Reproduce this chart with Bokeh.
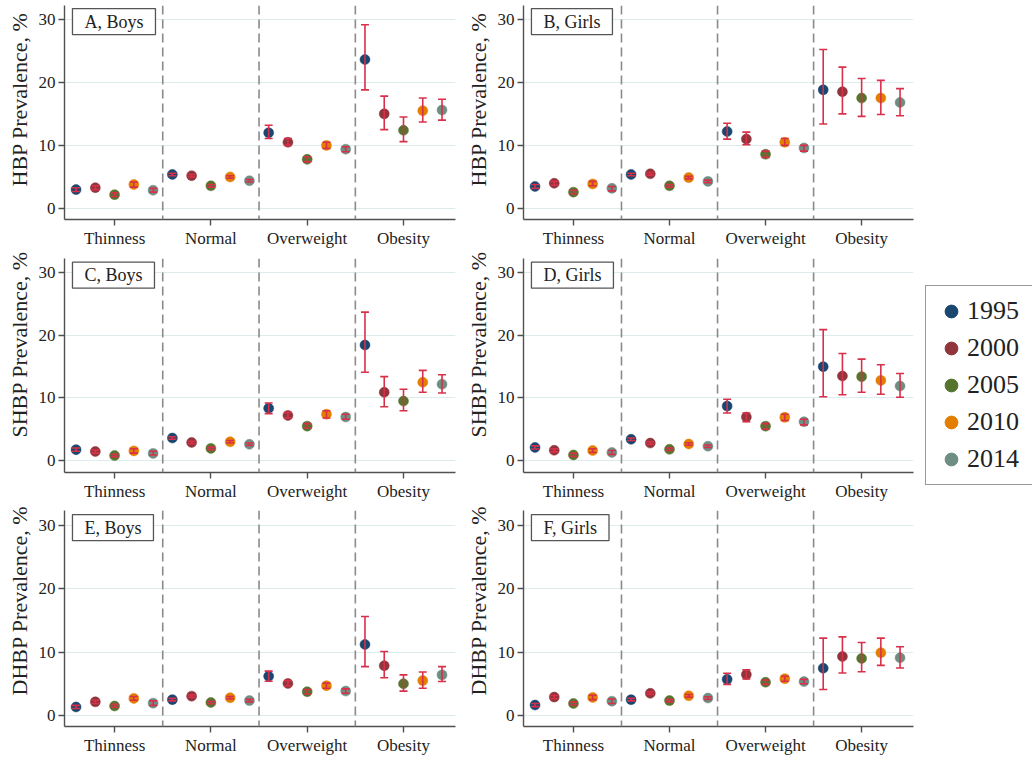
import math
from bokeh.plotting import figure
from bokeh.models import (ColumnDataSource, Whisker, TeeHead, Span, Label, FixedTicker,
                          Range1d, Legend, LegendItem, Spacer, Title)
from bokeh.layouts import row, column
from bokeh.embed import file_html
from bokeh.resources import INLINE

categories = ["Thinness", "Normal", "Overweight", "Obesity"]
years = ["1995", "2000", "2005", "2010", "2014"]
year_colors = ["#1a476f", "#90353b", "#55752f", "#e37e00", "#6e8e84"]
y_ticks = [0, 10, 20, 30]

# ---- A: HBP, boys  (rows = categories, columns = years)
hbp_boys_est = [[3.0, 3.3, 2.2, 3.8, 2.9], [5.4, 5.2, 3.6, 5.0, 4.4],
                [12.0, 10.5, 7.8, 10.0, 9.4], [23.6, 15.0, 12.4, 15.5, 15.6]]
hbp_boys_lo = [[2.7, 3.0, 1.9, 3.4, 2.6], [5.2, 5.0, 3.4, 4.8, 4.2],
               [11.1, 10.0, 7.4, 9.5, 9.0], [18.8, 12.5, 10.6, 13.7, 14.0]]
hbp_boys_hi = [[3.3, 3.6, 2.5, 4.2, 3.2], [5.6, 5.4, 3.8, 5.2, 4.6],
               [13.2, 11.1, 8.2, 10.5, 9.8], [29.1, 17.8, 14.5, 17.5, 17.3]]
# ---- B: HBP, girls
hbp_girls_est = [[3.5, 4.0, 2.6, 3.9, 3.2], [5.4, 5.5, 3.6, 4.9, 4.3],
                 [12.2, 11.0, 8.6, 10.5, 9.6], [18.8, 18.5, 17.5, 17.5, 16.8]]
hbp_girls_lo = [[3.2, 3.7, 2.3, 3.6, 2.8], [5.2, 5.3, 3.4, 4.7, 4.1],
                [11.0, 10.1, 8.1, 10.0, 9.1], [13.4, 15.0, 14.6, 14.9, 14.7]]
hbp_girls_hi = [[3.8, 4.3, 2.9, 4.3, 3.5], [5.6, 5.7, 3.8, 5.1, 4.5],
                [13.5, 12.1, 9.1, 11.1, 10.0], [25.2, 22.4, 20.6, 20.3, 19.0]]
# ---- C: SHBP, boys
shbp_boys_est = [[1.75, 1.45, 0.8, 1.55, 1.15], [3.6, 2.9, 1.95, 3.0, 2.6],
                 [8.35, 7.2, 5.5, 7.4, 6.95], [18.45, 10.9, 9.5, 12.5, 12.2]]
shbp_boys_lo = [[1.5, 1.2, 0.6, 1.2, 0.9], [3.4, 2.7, 1.75, 2.8, 2.4],
                [7.5, 6.8, 5.2, 6.8, 6.6], [14.1, 8.6, 7.95, 10.9, 10.8]]
shbp_boys_hi = [[2.0, 1.7, 1.0, 1.9, 1.5], [3.8, 3.1, 2.15, 3.2, 2.8],
                [9.2, 7.7, 5.9, 7.95, 7.4], [23.7, 13.4, 11.4, 14.4, 13.7]]
# ---- D: SHBP, girls
shbp_girls_est = [[2.1, 1.65, 0.9, 1.6, 1.3], [3.4, 2.8, 1.8, 2.65, 2.3],
                  [8.7, 6.95, 5.5, 6.9, 6.2], [15.0, 13.5, 13.4, 12.8, 11.9]]
shbp_girls_lo = [[1.85, 1.4, 0.65, 1.3, 1.0], [3.2, 2.6, 1.6, 2.45, 2.1],
                 [7.6, 6.2, 5.0, 6.4, 5.7], [10.2, 10.5, 10.9, 10.6, 10.1]]
shbp_girls_hi = [[2.35, 1.9, 1.15, 1.9, 1.6], [3.6, 3.0, 2.0, 2.85, 2.5],
                 [9.8, 7.6, 5.9, 7.4, 6.6], [20.9, 17.1, 16.2, 15.3, 13.9]]
# ---- E: DHBP, boys
dhbp_boys_est = [[1.35, 2.15, 1.5, 2.7, 1.95], [2.5, 3.05, 2.05, 2.8, 2.35],
                 [6.2, 5.05, 3.75, 4.7, 3.85], [11.2, 7.85, 5.0, 5.5, 6.4]]
dhbp_boys_lo = [[1.1, 1.9, 1.25, 2.4, 1.6], [2.3, 2.85, 1.85, 2.6, 2.15],
                [5.4, 4.65, 3.4, 4.3, 3.5], [7.7, 5.95, 3.85, 4.3, 5.35]]
dhbp_boys_hi = [[1.6, 2.4, 1.75, 3.0, 2.3], [2.7, 3.25, 2.25, 3.0, 2.55],
                [7.0, 5.5, 4.1, 5.1, 4.2], [15.6, 10.1, 6.4, 6.85, 7.7]]
# ---- F: DHBP, girls
dhbp_girls_est = [[1.65, 2.9, 1.9, 2.85, 2.25], [2.5, 3.5, 2.35, 3.1, 2.75],
                  [5.7, 6.45, 5.25, 5.8, 5.35], [7.45, 9.3, 9.0, 9.9, 9.1]]
dhbp_girls_lo = [[1.4, 2.65, 1.65, 2.5, 1.9], [2.3, 3.3, 2.15, 2.9, 2.55],
                 [4.9, 5.75, 4.9, 5.4, 5.0], [4.1, 6.7, 6.9, 7.9, 7.5]]
dhbp_girls_hi = [[1.9, 3.15, 2.15, 3.2, 2.6], [2.7, 3.7, 2.55, 3.3, 2.95],
                 [6.65, 7.2, 5.6, 6.2, 5.7], [12.2, 12.4, 11.5, 12.2, 10.85]]

FONT = "Liberation Serif"
ERR = "#d8304a"
AXC = "#505050"
GRID = "#dcecec"
TXT = "#222222"

year_offsets = [-0.4, -0.2, 0.0, 0.2, 0.4]
X_START, X_END = -0.02, 4.04


def panel(title, ylab, est, lo, hi, width, mb_left, mb_right, height, mb_top, mb_bottom,
          yr, title_offset):
    p = figure(width=width, height=height, output_backend="svg", toolbar_location=None,
               x_range=Range1d(X_START, X_END), y_range=Range1d(*yr),
               min_border_left=mb_left, min_border_right=mb_right,
               min_border_top=mb_top, min_border_bottom=mb_bottom)
    p.outline_line_color = None
    p.background_fill_color = "white"
    p.border_fill_color = "white"
    p.xgrid.visible = False
    p.ygrid.ticker = FixedTicker(ticks=y_ticks)
    p.ygrid.grid_line_color = GRID
    p.ygrid.grid_line_width = 1.2

    p.yaxis.ticker = FixedTicker(ticks=y_ticks)
    p.xaxis.ticker = FixedTicker(ticks=[i + 0.5 for i in range(len(categories))])
    p.xaxis.major_label_overrides = {i + 0.5: c for i, c in enumerate(categories)}
    for ax in (p.xaxis, p.yaxis):
        ax.axis_line_color = AXC
        ax.axis_line_width = 1.4
        ax.major_tick_line_color = AXC
        ax.major_tick_line_width = 1.4
        ax.major_tick_out = 6
        ax.major_tick_in = 0
        ax.minor_tick_line_color = None
        ax.major_label_text_font = FONT
        ax.major_label_text_font_size = "17px"
        ax.major_label_text_color = TXT
        ax.major_label_standoff = 3

    # y-axis title, placed (as in the reference) a little above the frame centre
    p.add_layout(Title(text=ylab, text_font=FONT, text_font_size="22px",
                       text_font_style="normal", text_color=TXT, align="left",
                       offset=title_offset, standoff=8), "left")

    for k in range(1, len(categories)):
        p.add_layout(Span(location=k, dimension="height", line_color="#8a8a8a",
                          line_width=1.6, line_dash="9 5"))

    for j, (yname, col) in enumerate(zip(years, year_colors)):
        src = ColumnDataSource(dict(
            x=[i + 0.5 + year_offsets[j] for i in range(len(categories))],
            y=[est[i][j] for i in range(len(categories))],
            lo=[lo[i][j] for i in range(len(categories))],
            hi=[hi[i][j] for i in range(len(categories))],
        ))
        p.scatter("x", "y", source=src, marker="circle", size=10,
                  fill_color=col, line_color=col, line_width=0.5)
        w = Whisker(base="x", lower="lo", upper="hi", source=src, dimension="height",
                    line_color=ERR, line_width=1.6, level="overlay",
                    upper_head=TeeHead(size=8, line_color=ERR, line_width=1.6),
                    lower_head=TeeHead(size=8, line_color=ERR, line_width=1.6))
        p.add_layout(w)

    pitch = (width - mb_left - mb_right) / (X_END - X_START)
    # panel caption box
    p.add_layout(Label(x=X_START + 8 / pitch, y=31.67, text=title, text_font=FONT,
                       text_font_size="18px", text_color=TXT,
                       text_align="left", text_baseline="top",
                       background_fill_color="white", border_line_color="#555555",
                       border_line_width=1.3, padding=(12, 3)))
    return p


panels_spec = [
    ("A, Boys", "HBP Prevalence, %", hbp_boys_est, hbp_boys_lo, hbp_boys_hi),
    ("B, Girls", "HBP Prevalence, %", hbp_girls_est, hbp_girls_lo, hbp_girls_hi),
    ("C, Boys", "SHBP Prevalence, %", shbp_boys_est, shbp_boys_lo, shbp_boys_hi),
    ("D, Girls", "SHBP Prevalence, %", shbp_girls_est, shbp_girls_lo, shbp_girls_hi),
    ("E, Boys", "DHBP Prevalence, %", dhbp_boys_est, dhbp_boys_lo, dhbp_boys_hi),
    ("F, Girls", "DHBP Prevalence, %", dhbp_girls_est, dhbp_girls_lo, dhbp_girls_hi),
]
row_heights = [250, 253, 257]
row_tops = [5, 8, 7]
row_bottoms = [30, 29, 34]
row_ranges = [(-1.734, 32.16), (-1.90, 32.26), (-1.734, 32.32)]
row_title_offsets = [33, 35, 31]

rows = []
for r in range(3):
    figs = []
    for c in range(2):
        t, yl, e, l, h = panels_spec[r * 2 + c]
        if c == 0:
            f = panel(t, yl, e, l, h, 459, 62, 4, row_heights[r], row_tops[r],
                      row_bottoms[r], row_ranges[r], row_title_offsets[r])
        else:
            f = panel(t, yl, e, l, h, 458, 61, 4, row_heights[r], row_tops[r],
                      row_bottoms[r], row_ranges[r], row_title_offsets[r])
        figs.append(f)
    rows.append(row(*figs))

# legend figure
leg = figure(width=115, height=215, output_backend="svg", toolbar_location=None,
             x_range=Range1d(0, 1), y_range=Range1d(0, 1), min_border=0,
             x_axis_location=None, y_axis_location=None)
leg.outline_line_color = None
leg.grid.visible = False
items = []
for yname, col in zip(years, year_colors):
    rr = leg.scatter(x=[0.5], y=[float("nan")], marker="circle", size=10,
                     fill_color=col, line_color=col)
    items.append(LegendItem(label=yname, renderers=[rr]))
legend = Legend(items=items, location="top_left", margin=8, padding=9, spacing=5,
                glyph_width=32, glyph_height=32, label_standoff=0, label_width=72,
                label_text_font=FONT, label_text_font_size="26px",
                label_text_color=TXT,
                border_line_color="#333333", border_line_width=1.3,
                background_fill_color="white")
leg.add_layout(legend)

layout = row(column(*rows), column(Spacer(width=115, height=277), leg))

open("out.html", "w").write(file_html(layout, INLINE))
